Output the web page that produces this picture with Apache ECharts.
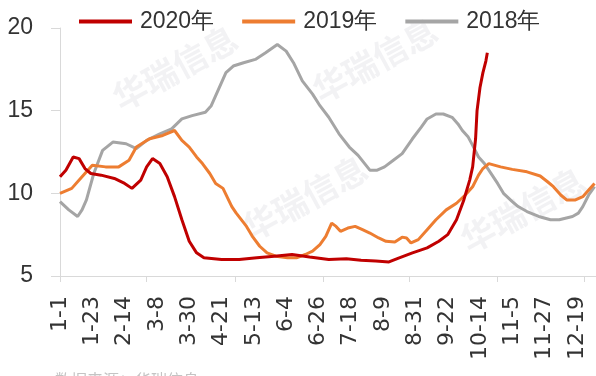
<!DOCTYPE html>
<html>
<head>
<meta charset="utf-8">
<script src="https://cdn.jsdelivr.net/npm/echarts@6/dist/echarts.min.js"></script>
<style>
  html, body { margin: 0; padding: 0; background: #ffffff; }
  #chart { width: 596px; height: 376px; }
</style>
</head>
<body>
<div id="chart"></div>
<script>
// Series names and colours
const seriesNames = ['2020年', '2019年', '2018年'];
const seriesColors = ['#c00000', '#ed7d31', '#a5a5a5'];

// x axis: day of year (0 = 1-1); labels every 22 days, ticks roughly every two months
const labelDays = [0, 22, 44, 66, 88, 110, 132, 154, 176, 198, 220, 242, 264, 286, 308, 330, 352];
const tickDays = [0, 59, 119, 179, 238, 298, 357];
const monthLengths = [31, 28, 31, 30, 31, 30, 31, 31, 30, 31, 30, 31];

// y axis
const yMin = 5, yMax = 20, yStep = 5;

// [day of year, value]
const data2020 = [
  [0, 11.0], [4, 11.4], [9, 12.2], [13, 12.1], [17, 11.5], [21, 11.2], [28, 11.1], [37, 10.9],
  [44, 10.6], [49, 10.3], [55, 10.8], [59, 11.6], [63, 12.1], [68, 11.8], [73, 11.0], [78, 9.8],
  [83, 8.4], [88, 7.1], [93, 6.4], [98, 6.1], [110, 6.0], [122, 6.0], [134, 6.1], [146, 6.2],
  [158, 6.3], [170, 6.15], [183, 6.0], [195, 6.05], [205, 5.95], [215, 5.9], [224, 5.85],
  [231, 6.1], [240, 6.4], [250, 6.7], [258, 7.1], [264, 7.5], [270, 8.4], [275, 9.6],
  [279, 10.8], [281, 11.6], [283, 13.3], [284, 15.0], [286, 16.4], [288, 17.3], [290, 18.0],
  [291, 18.5]
];
const data2019 = [
  [0, 10.0], [8, 10.3], [15, 11.0], [22, 11.7], [31, 11.6], [40, 11.6], [47, 12.0], [52, 12.8],
  [61, 13.3], [70, 13.5], [78, 13.8], [83, 13.2], [88, 12.8], [93, 12.2], [97, 11.8], [102, 11.2],
  [106, 10.6], [111, 10.3], [117, 9.2], [120, 8.8], [127, 8.0], [131, 7.4], [136, 6.8], [141, 6.4],
  [147, 6.2], [155, 6.1], [161, 6.1], [167, 6.3], [172, 6.5], [177, 6.9], [181, 7.4], [185, 8.2],
  [188, 8.0], [191, 7.7], [196, 7.9], [201, 8.0], [206, 7.8], [211, 7.6], [217, 7.3], [222, 7.1],
  [228, 7.05], [233, 7.35], [236, 7.3], [239, 7.0], [244, 7.2], [250, 7.8], [256, 8.4], [263, 9.0],
  [270, 9.4], [276, 9.9], [281, 10.4], [285, 11.1], [288, 11.5], [292, 11.8], [300, 11.6],
  [308, 11.45], [318, 11.3], [327, 11.05], [332, 10.7], [336, 10.4], [341, 9.9], [345, 9.6],
  [351, 9.6], [356, 9.8], [360, 10.2], [364, 10.6]
];
const data2018 = [
  [0, 9.5], [6, 9.0], [12, 8.6], [15, 9.0], [18, 9.6], [23, 11.2], [29, 12.6], [36, 13.1],
  [45, 13.0], [52, 12.7], [59, 13.2], [68, 13.6], [76, 13.9], [83, 14.5], [90, 14.7], [99, 14.9],
  [103, 15.3], [108, 16.3], [113, 17.3], [118, 17.7], [125, 17.9], [133, 18.1], [140, 18.5],
  [148, 19.0], [154, 18.6], [159, 17.9], [165, 16.8], [172, 16.0], [177, 15.3], [183, 14.6],
  [190, 13.6], [197, 12.8], [203, 12.3], [211, 11.4], [216, 11.4], [221, 11.6], [227, 12.0],
  [233, 12.4], [240, 13.3], [246, 14.0], [250, 14.5], [256, 14.8], [261, 14.8], [267, 14.6],
  [271, 14.2], [274, 13.8], [278, 13.4], [281, 12.9], [285, 12.2], [289, 11.8], [292, 11.4],
  [298, 10.6], [302, 10.0], [308, 9.5], [312, 9.2], [318, 8.9], [326, 8.6], [334, 8.4],
  [340, 8.4], [349, 8.6], [353, 8.8], [356, 9.2], [360, 9.9], [364, 10.4]
];

function dayToLabel(day) {
  let d = Math.round(day), m = 0;
  while (m < 11 && d >= monthLengths[m]) { d -= monthLengths[m]; m++; }
  return (m + 1) + '-' + (d + 1);
}

const axisGrey = '#d9d9d9';
const textColor = '#333333';
const baseFont = 'Liberation Sans, Arial, sans-serif';

// faint company marks behind the plot
const marks = [
  { x: 175, y: 68 }, { x: 375, y: 60 }, { x: 305, y: 198 }, { x: 523, y: 210 }
];
const graphics = marks.map(m => ({
  type: 'text',
  x: m.x, y: m.y,
  rotation: 0.5,
  z: 0,
  silent: true,
  style: {
    text: '华瑞信息',
    fill: 'rgba(170,170,180,0.15)',
    font: 'bold 34px "Noto Sans CJK SC"',
    align: 'center',
    verticalAlign: 'middle'
  }
}));
graphics.push({
  type: 'text', left: 55, top: 372, silent: true,
  style: { text: '数据来源：华瑞信息', fill: '#c4c4c4', font: '16px "Noto Sans CJK SC"' }
});

const lineSeries = [
  { name: seriesNames[2], data: data2018, color: seriesColors[2] },
  { name: seriesNames[1], data: data2019, color: seriesColors[1] },
  { name: seriesNames[0], data: data2020, color: seriesColors[0] }
].map(s => ({
  name: s.name,
  type: 'line',
  data: s.data,
  symbol: 'none',
  smooth: false,
  z: 3,
  itemStyle: { color: s.color },
  lineStyle: { color: s.color, width: 3 }
}));

const chart = echarts.init(document.getElementById('chart'), null, { renderer: 'canvas' });
chart.setOption({
  animation: false,
  backgroundColor: '#ffffff',
  graphic: graphics,
  legend: {
    data: seriesNames,
    left: 74,
    top: 5,
    icon: 'rect',
    itemWidth: 53,
    itemHeight: 4,
    itemGap: 28,
    textStyle: { fontSize: 23, color: textColor, fontFamily: baseFont, padding: [0, 0, 0, 3] }
  },
  grid: { left: 60, right: 0, top: 28, bottom: 100, containLabel: false },
  xAxis: {
    type: 'value',
    min: 0,
    max: 365,
    axisLine: { show: true, lineStyle: { color: axisGrey, width: 1 } },
    axisTick: { show: true, length: 6, customValues: tickDays, lineStyle: { color: axisGrey } },
    axisLabel: {
      customValues: labelDays,
      rotate: 90,
      margin: 20,
      fontSize: 22,
      color: textColor,
      fontFamily: 'DejaVu Sans, sans-serif',
      formatter: v => dayToLabel(v)
    },
    splitLine: { show: false }
  },
  yAxis: {
    type: 'value',
    min: yMin,
    max: yMax,
    interval: yStep,
    axisLine: { show: true, lineStyle: { color: axisGrey, width: 1 } },
    axisTick: { show: true, length: 9, lineStyle: { color: axisGrey } },
    axisLabel: { fontSize: 23, color: textColor, fontFamily: baseFont, margin: 27 },
    splitLine: { show: false }
  },
  series: lineSeries
});
</script>
</body>
</html>
